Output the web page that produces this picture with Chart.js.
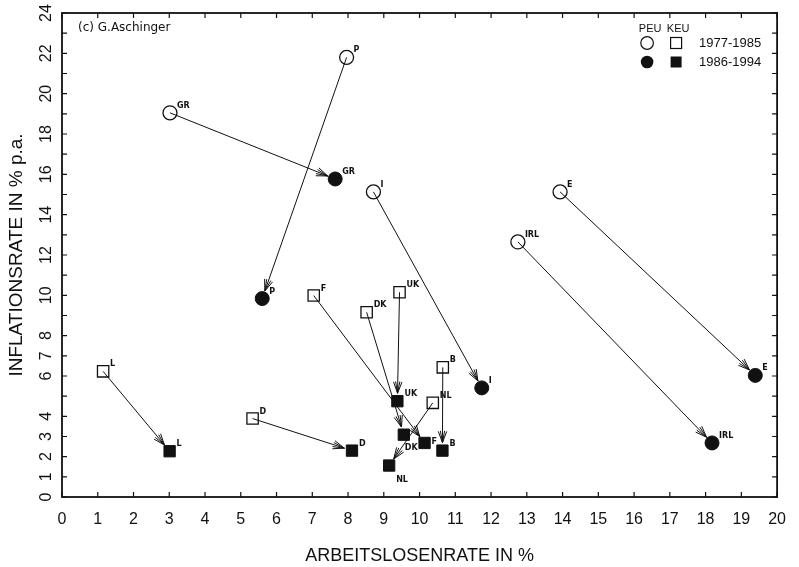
<!DOCTYPE html>
<html>
<head>
<meta charset="utf-8">
<script src="https://cdn.jsdelivr.net/npm/chart.js@4/dist/chart.umd.min.js"></script>
<style>
html, body { margin: 0; padding: 0; background: #fff; }
</style>
</head>
<body>
<canvas id="chart" width="799" height="567"></canvas>
<script>
// PEU countries (circles): unemployment (x) and inflation (y)
const peuCountries = ["GR", "P", "I", "IRL", "E"];
const peuU77 = [3.02, 7.96, 8.71, 12.75, 13.93];
const peuI77 = [19.05, 21.8, 15.13, 12.65, 15.13];
const peuU86 = [7.64, 5.6, 11.74, 18.18, 19.39];
const peuI86 = [15.77, 9.84, 5.41, 2.68, 6.03];

// KEU countries (squares)
const keuCountries = ["L", "D", "F", "DK", "UK", "B", "NL"];
const keuU77 = [1.15, 5.33, 7.04, 8.52, 9.44, 10.65, 10.37];
const keuI77 = [6.23, 3.89, 9.99, 9.16, 10.15, 6.43, 4.67];
const keuU86 = [3.01, 8.11, 10.14, 9.56, 9.38, 10.64, 9.15];
const keuI86 = [2.27, 2.3, 2.68, 3.09, 4.75, 2.3, 1.56];

const yTickLabels = [0, 1, 2, 3, 4, 6, 7, 8, 10, 12, 14, 16, 18, 20, 22, 24];
const periods = ["1977-1985", "1986-1994"];

const ink = "#111";
const FONT = "'Liberation Sans', Arial, sans-serif";
const WIDE = "'DejaVu Sans', sans-serif";

function toPoints(us, is) {
  return us.map((u, i) => ({ x: u, y: is[i] }));
}

// labels that are not put at the usual upper right
const labelNudge = { "86:NL": [7, 14], "86:DK": [1, 13], "86:F": [7, -1] };

const arrowPlugin = {
  id: "arrows",
  beforeDatasetsDraw(chart) {
    const c = chart.ctx, xs = chart.scales.x, ys = chart.scales.y;
    c.save();
    c.strokeStyle = ink;
    c.lineWidth = 1;
    const drawArrow = (u0, i0, u1, i1) => {
      const x0 = xs.getPixelForValue(u0), y0 = ys.getPixelForValue(i0);
      const x1 = xs.getPixelForValue(u1), y1 = ys.getPixelForValue(i1);
      const a = Math.atan2(y1 - y0, x1 - x0);
      const tx = x1 - Math.cos(a) * 8, ty = y1 - Math.sin(a) * 8;
      c.beginPath();
      c.moveTo(x0, y0);
      c.lineTo(tx, ty);
      [-0.36, -0.18, 0.18, 0.36].forEach(d => {
        c.moveTo(tx, ty);
        c.lineTo(tx - Math.cos(a + d) * 12, ty - Math.sin(a + d) * 12);
      });
      c.stroke();
    };
    peuCountries.forEach((_, i) => drawArrow(peuU77[i], peuI77[i], peuU86[i], peuI86[i]));
    keuCountries.forEach((_, i) => drawArrow(keuU77[i], keuI77[i], keuU86[i], keuI86[i]));
    c.restore();
  }
};

const framePlugin = {
  id: "frame",
  afterDraw(chart) {
    const c = chart.ctx, a = chart.chartArea, xs = chart.scales.x, ys = chart.scales.y;
    c.save();
    c.strokeStyle = ink;
    c.lineWidth = 1.8;
    c.strokeRect(a.left, a.top, a.right - a.left, a.bottom - a.top);

    // inside ticks on all four sides
    c.lineWidth = 1.2;
    c.beginPath();
    xs.ticks.forEach(t => {
      const px = xs.getPixelForValue(t.value);
      c.moveTo(px, a.bottom); c.lineTo(px, a.bottom - 5);
      c.moveTo(px, a.top); c.lineTo(px, a.top + 5);
    });
    ys.ticks.forEach(t => {
      const py = ys.getPixelForValue(t.value);
      c.moveTo(a.left, py); c.lineTo(a.left + 5, py);
      c.moveTo(a.right, py); c.lineTo(a.right - 5, py);
    });
    c.stroke();

    // rotated y tick labels
    c.fillStyle = ink;
    c.font = "16px " + FONT;
    c.textAlign = "center";
    c.textBaseline = "middle";
    yTickLabels.forEach(v => {
      c.save();
      c.translate(a.left - 15, ys.getPixelForValue(v));
      c.rotate(-Math.PI / 2);
      c.fillText(String(v), 0, 0);
      c.restore();
    });

    // country labels next to the markers
    c.font = "bold 8px " + WIDE;
    c.textAlign = "left";
    const label = (names, us, is, tag) => {
      names.forEach((n, i) => {
        const d = labelNudge[tag + ":" + n] || [7, -7];
        c.fillText(n, xs.getPixelForValue(us[i]) + d[0], ys.getPixelForValue(is[i]) + d[1]);
      });
    };
    label(peuCountries, peuU77, peuI77, "77");
    label(peuCountries, peuU86, peuI86, "86");
    label(keuCountries, keuU77, keuI77, "77");
    label(keuCountries, keuU86, keuI86, "86");

    // copyright note
    c.font = "12px " + WIDE;
    c.fillText("(c) G.Aschinger", a.left + 16, a.top + 15);

    // legend box at top right
    c.font = "11px " + FONT;
    c.textAlign = "center";
    c.fillText("PEU", a.right - 127, a.top + 16);
    c.fillText("KEU", a.right - 99, a.top + 16);
    c.lineWidth = 1.2;
    [a.top + 30, a.top + 49].forEach((ry, k) => {
      c.beginPath();
      c.arc(a.right - 130, ry, 6.3, 0, Math.PI * 2);
      if (k) c.fill(); else c.stroke();
      if (k) c.fillRect(a.right - 106.5, ry - 5.5, 11, 11);
      else c.strokeRect(a.right - 106.5, ry - 5.5, 11, 11);
      c.save();
      c.font = "13px " + FONT;
      c.textAlign = "left";
      c.fillText(periods[k], a.right - 78, ry);
      c.restore();
    });
    c.restore();
  }
};

const chart = new Chart(document.getElementById("chart").getContext("2d"), {
  type: "scatter",
  data: {
    datasets: [
      { label: "PEU " + periods[0], data: toPoints(peuU77, peuI77), pointStyle: "circle", pointRadius: 7,
        backgroundColor: "rgba(0,0,0,0)", borderColor: ink, borderWidth: 1.3 },
      { label: "PEU " + periods[1], data: toPoints(peuU86, peuI86), pointStyle: "circle", pointRadius: 7,
        backgroundColor: ink, borderColor: ink, borderWidth: 1 },
      { label: "KEU " + periods[0], data: toPoints(keuU77, keuI77), pointStyle: "rect", pointRadius: 8,
        backgroundColor: "rgba(0,0,0,0)", borderColor: ink, borderWidth: 1.3 },
      { label: "KEU " + periods[1], data: toPoints(keuU86, keuI86), pointStyle: "rect", pointRadius: 8,
        backgroundColor: ink, borderColor: ink, borderWidth: 1 }
    ]
  },
  options: {
    responsive: false,
    animation: false,
    devicePixelRatio: 1,
    layout: { padding: { left: 0, right: 16, top: 13, bottom: 0 } },
    plugins: { legend: { display: false }, tooltip: { enabled: false } },
    scales: {
      x: {
        type: "linear",
        min: 0,
        max: 20,
        grid: { display: false, drawTicks: false },
        border: { display: false },
        ticks: { stepSize: 1, color: ink, padding: 13, maxRotation: 0, font: { family: FONT, size: 16 } },
        title: { display: true, text: "ARBEITSLOSENRATE IN %", color: ink, padding: { top: 7, bottom: 0 },
          font: { family: FONT, size: 18 } },
        afterFit(scale) { scale.height = 70; }
      },
      y: {
        type: "linear",
        min: 0,
        max: 24,
        grid: { display: false, drawTicks: false },
        border: { display: false },
        ticks: { stepSize: 1, display: false },
        title: { display: true, text: "INFLATIONSRATE IN % p.a.", color: ink, padding: { top: 5, bottom: 0 },
          font: { family: FONT, size: 19 } },
        afterFit(scale) { scale.width = 62; }
      }
    }
  },
  plugins: [arrowPlugin, framePlugin]
});
</script>
</body>
</html>
